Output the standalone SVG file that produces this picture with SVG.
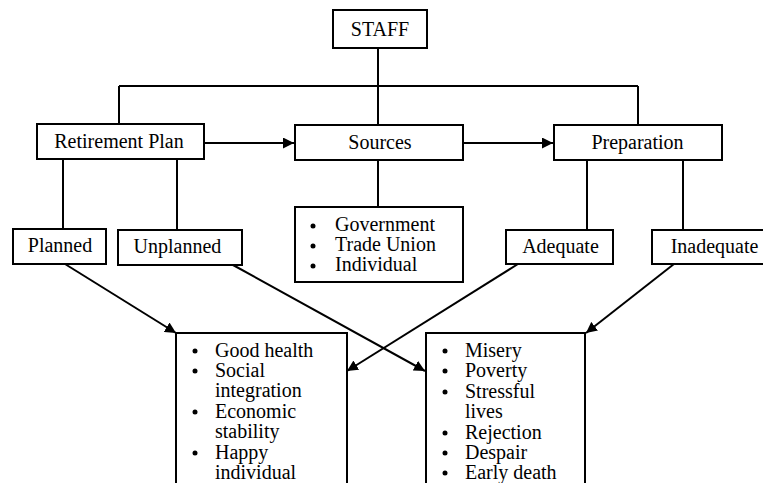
<svg xmlns="http://www.w3.org/2000/svg" width="763" height="483" viewBox="0 0 763 483">
<style>
.box{fill:#fff;stroke:#000;stroke-width:2}
.ln{fill:none;stroke:#000;stroke-width:2}
.b{fill:#000}
.t{font-family:'Liberation Serif','Times New Roman',serif;font-size:20px;fill:#000}
.c{text-anchor:middle}
</style>
<defs>
<marker id="ah" viewBox="0 0 10 10" refX="10" refY="5" markerWidth="5.5" markerHeight="5.5" orient="auto" markerUnits="strokeWidth">
<path d="M0,0 L10,5 L0,10 z" fill="#000"/>
</marker>
</defs>
<rect width="763" height="483" fill="#fff"/>
<g id="connectors">
<path class="ln" d="M378,48 V125"/>
<path class="ln" d="M119,86 H638 M119,86 V124 M638,86 V125"/>
<path class="ln" d="M204,143 H294" marker-end="url(#ah)"/>
<path class="ln" d="M463,143 H553" marker-end="url(#ah)"/>
<path class="ln" d="M63,159 V229 M177,159 V230"/>
<path class="ln" d="M378,160 V207"/>
<path class="ln" d="M587,160 V230 M683,160 V230"/>
<path class="ln" d="M65,264 L176,333" marker-end="url(#ah)"/>
<path class="ln" d="M233,265 L425,371" marker-end="url(#ah)"/>
<path class="ln" d="M518,264 L347,371" marker-end="url(#ah)"/>
<path class="ln" d="M674,264 L586,333" marker-end="url(#ah)"/>
</g>
<g id="staff"><rect class="box" x="333" y="10" width="94" height="38"/><text class="t c" x="380" y="36">STAFF</text></g>
<g id="retirement-plan"><rect class="box" x="37" y="124" width="167" height="35"/><text class="t c" x="119" y="148">Retirement Plan</text></g>
<g id="sources"><rect class="box" x="295" y="125" width="168" height="35"/><text class="t c" x="380" y="149">Sources</text></g>
<g id="preparation"><rect class="box" x="554" y="125" width="168" height="35"/><text class="t c" x="637.5" y="149">Preparation</text></g>
<g id="planned"><rect class="box" x="13" y="229" width="93" height="35"/><text class="t c" x="60" y="252">Planned</text></g>
<g id="unplanned"><rect class="box" x="118" y="230" width="124" height="35"/><text class="t c" x="177.5" y="253">Unplanned</text></g>
<g id="sources-list"><rect class="box" x="295" y="207" width="168" height="75"/>
<circle class="b" cx="313" cy="226" r="2.5"/><text class="t" x="335" y="231">Government</text>
<circle class="b" cx="313" cy="246" r="2.5"/><text class="t" x="335" y="251">Trade Union</text>
<circle class="b" cx="313" cy="266" r="2.5"/><text class="t" x="335" y="271">Individual</text>
</g>
<g id="adequate"><rect class="box" x="506" y="230" width="107" height="34"/><text class="t c" x="560.5" y="253">Adequate</text></g>
<g id="inadequate"><rect class="box" x="652" y="230" width="115" height="34"/><text class="t c" x="714.5" y="253">Inadequate</text></g>
<g id="positive-outcomes"><rect class="box" x="176" y="333" width="171" height="160"/>
<circle class="b" cx="195" cy="351" r="2.5"/><text class="t" x="215" y="357">Good health</text>
<circle class="b" cx="195" cy="371" r="2.5"/><text class="t" x="215" y="377">Social</text>
<text class="t" x="215" y="397">integration</text>
<circle class="b" cx="195" cy="412" r="2.5"/><text class="t" x="215" y="418">Economic</text>
<text class="t" x="215" y="438">stability</text>
<circle class="b" cx="195" cy="453" r="2.5"/><text class="t" x="215" y="459">Happy</text>
<text class="t" x="215" y="479">individual</text>
</g>
<g id="negative-outcomes"><rect class="box" x="426" y="333" width="159" height="160"/>
<circle class="b" cx="445" cy="351" r="2.5"/><text class="t" x="465" y="357">Misery</text>
<circle class="b" cx="445" cy="371" r="2.5"/><text class="t" x="465" y="377">Poverty</text>
<circle class="b" cx="445" cy="392" r="2.5"/><text class="t" x="465" y="398">Stressful</text>
<text class="t" x="465" y="418">lives</text>
<circle class="b" cx="445" cy="433" r="2.5"/><text class="t" x="465" y="439">Rejection</text>
<circle class="b" cx="445" cy="453" r="2.5"/><text class="t" x="465" y="459">Despair</text>
<circle class="b" cx="445" cy="473" r="2.5"/><text class="t" x="465" y="479">Early death</text>
</g>
</svg>
